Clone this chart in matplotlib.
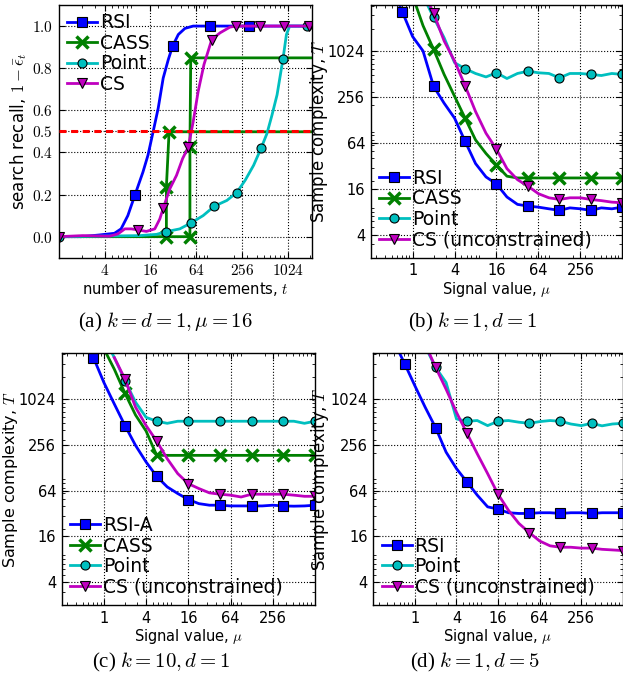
import numpy as np
import matplotlib
matplotlib.use('Agg')
import matplotlib.pyplot as plt
from matplotlib.ticker import FixedLocator, FixedFormatter, LogLocator, NullFormatter

plt.rcParams['mathtext.fontset'] = 'cm'
plt.rcParams['font.family'] = ['DejaVu Sans']
plt.rcParams['xtick.direction'] = 'in'
plt.rcParams['ytick.direction'] = 'in'
plt.rcParams['xtick.top'] = True
plt.rcParams['ytick.right'] = True
plt.rcParams['axes.linewidth'] = 1.0

nan = np.nan

# (a) search recall vs number of measurements, k = d = 1, mu = 16
t_rsi = [1, 2, 3.4, 5.4, 6.6, 8.1, 10, 12.8, 14.9, 17.4, 20.3, 23.6, 27.5, 31.3, 37.3, 45.6, 58.5, 97, 313, 2100]
rec_rsi = [0, 0, 0.008, 0.016, 0.037, 0.1, 0.196, 0.307, 0.387, 0.498, 0.61, 0.753, 0.84, 0.904, 0.96, 0.989, 1.0, 1.0, 1.0, 1.0]
mk_rsi = [6, 13, 17, 18]

t_cass = [1, 26, 53, 53, 54.3, 2100, nan, 26, 26, 28.2, 2100]
rec_cass = [0, 0, 0, 0.424, 0.849, 0.849, nan, 0, 0.236, 0.498, 0.498]
mk_cass = [1, 2, 3, 4, 8, 9]

t_point = [1, 11.6, 19.3, 26, 39, 54.6, 79, 111, 162, 218, 282, 364, 455, 545, 635, 740, 885, 982, 1083, 1808, 2100]
rec_point = [0, 0.005, 0.011, 0.024, 0.037, 0.065, 0.1, 0.145, 0.172, 0.209, 0.268, 0.339, 0.419, 0.49, 0.578, 0.674, 0.844, 0.96, 1.0, 1.0, 1.0]
mk_point = [0, 3, 5, 7, 9, 12, 16, 19]

t_cs = [1, 2.07, 4.66, 6.0, 7.4, 9.0, 11, 14.2, 18.3, 21.3, 23.6, 28.9, 35.3, 42.5, 50.3, 58.5, 68, 81, 102.6, 132, 178, 215, 446, 923, 1935, 2100]
rec_cs = [0, 0.005, 0.002, 0.013, 0.037, 0.037, 0.032, 0.025, 0.037, 0.084, 0.135, 0.228, 0.291, 0.371, 0.424, 0.546, 0.69, 0.817, 0.936, 0.968, 0.995, 1.0, 1.0, 1.0, 1.0, 1.0]
mk_cs = [0, 6, 10, 14, 18, 21, 22, 23, 24]

# (b)-(d) sample complexity vs signal value
mu = [0.25, 0.35, 0.5, 0.71, 1, 1.41, 2, 2.83, 4, 5.66, 8, 11.3, 16, 22.6, 32, 45.3, 64, 90.5, 128, 181, 256, 362, 512, 724, 1024]

b_rsi = [nan, nan, 7100, 3350, 1580, 1024, 352, 212, 135, 67.2, 34.3, 22.9, 18.5, 12.5, 10.0, 9.5, 9.2, 8.75, 8.35, 9.0, 8.75, 8.35, 9.0, 8.75, 9.2]
b_cass = [nan, nan, nan, nan, 5400, 2200, 1075, 505, 261, 135, 70, 46.5, 32.7, 23.4] + [22.2] * 11
b_point = [nan, nan, nan, nan, nan, 5400, 2820, 1530, 719, 600, 519, 468, 530, 446, 519, 557, 530, 519, 455, 519, 519, 505, 488, 519, 505]
b_cs = [nan, nan, nan, nan, nan, 6200, 3210, 1390, 755, 360, 165, 85.6, 52.7, 29.4, 21.1, 17.3, 13.8, 12.2, 11.6, 12.2, 12.2, 11.6, 11.2, 10.7, 10.5]

c_rsi = [nan, nan, 7100, 3590, 1690, 879, 458, 251, 152, 98.4, 71.5, 58.5, 48.8, 43.1, 41.1, 41.1, 40.2, 40.2, 40.2, 40.2, 41.1, 40.2, 39.9, 40.2, 41.1]
c_cass = [nan, nan, nan, nan, 4700, 2520, 1218, 630, 388] + [186] * 16
c_point = [nan, nan, nan, nan, 6650, 3590, 1783, 929, 588, 523, 491] + [523] * 12 + [491, 523]
c_cs = [nan, nan, nan, nan, nan, 3590, 1872, 798, 458, 286, 168, 107, 78.8, 68.1, 59.7, 57.3, 55.7, 52.7, 57.3, 57.3, 57.3, 57.3, 55.7, 53.8, 53.8]

d_rsi = [nan, nan, 5790, 3000, 1530, 798, 428, 205, 124.5, 83.3, 55.7, 39.1, 36.5, 32.7, 32, 32, 32.7, 32.7, 32, 32.7, 32.7, 32, 32.7, 32.7, 32.7]
d_point = [nan, nan, nan, nan, nan, 5040, 2666, 1690, 560, 523, 534, 458, 523, 534, 508, 491, 517, 534, 523, 481, 458, 491, 455, 481, 491]
d_cs = [nan, nan, nan, nan, nan, 5400, 2666, 1380, 685, 365, 195, 107, 57.3, 35.3, 23.7, 17.9, 13.9, 12.0, 11.5, 11.5, 11.2, 11.2, 10.8, 10.6, 10.4]

log_ticks = [4, 16, 64, 256, 1024]
mu_ticks = [1, 4, 16, 64, 256]
rec_ticks = [0.0, 0.2, 0.4, 0.5, 0.6, 0.8, 1.0]

styles = {
    'RSI': dict(color='b', marker='s'),
    'CASS': dict(color='g', marker='x', mew=2.5, ms=8),
    'Point': dict(color='c', marker='o'),
    'CS': dict(color='m', marker='v'),
}
LW = 2.0
MS = 6.5
LEG = dict(frameon=False, fontsize=13.5, numpoints=1, handlelength=1.6,
           handletextpad=0.15, labelspacing=0.08, borderpad=0.25, borderaxespad=0.2)

fig = plt.figure(figsize=(6.23, 6.86), dpi=100)
ax_a = fig.add_axes([0.0942, 0.6243, 0.4059, 0.3684])
ax_b = fig.add_axes([0.5950, 0.6243, 0.4039, 0.3684])
ax_c = fig.add_axes([0.0990, 0.1181, 0.4066, 0.3669])
ax_d = fig.add_axes([0.5992, 0.1181, 0.4005, 0.3669])


def draw(ax, x, y, kind, label, mk):
    st = dict(styles[kind])
    kw = dict(lw=LW, ms=st.pop('ms', MS), label=label, markevery=mk)
    if st['marker'] != 'x':
        kw['mec'] = 'k'
        kw['mew'] = 0.8
    ax.plot(x, y, **st, **kw)


def finish(ax, ylab_x):
    ax.grid(True, which='major', ls=':', color='k', lw=0.8)
    ax.tick_params(which='major', length=4, width=0.8)
    ax.tick_params(which='minor', length=2, width=0.6)
    ax.yaxis.set_label_coords(ylab_x, 0.5)


# ---- (a)
draw(ax_a, t_rsi, rec_rsi, 'RSI', 'RSI', mk_rsi)
draw(ax_a, t_cass, rec_cass, 'CASS', 'CASS', mk_cass)
draw(ax_a, t_point, rec_point, 'Point', 'Point', mk_point)
draw(ax_a, t_cs, rec_cs, 'CS', 'CS', mk_cs)
ax_a.axhline(0.5, color='r', lw=2.2, dashes=(2.3, 1.5), zorder=3)
ax_a.set_xscale('log', base=2)
ax_a.set_xlim(1, 2100)
ax_a.set_ylim(-0.1, 1.1)
ax_a.xaxis.set_major_locator(FixedLocator(log_ticks))
ax_a.xaxis.set_major_formatter(FixedFormatter(['$%d$' % v for v in log_ticks]))
ax_a.xaxis.set_minor_locator(LogLocator(base=10, subs=np.arange(2, 10), numticks=20))
ax_a.xaxis.set_minor_formatter(NullFormatter())
ax_a.yaxis.set_major_locator(FixedLocator(rec_ticks))
ax_a.yaxis.set_major_formatter(FixedFormatter(['$%.1f$' % v for v in rec_ticks]))
ax_a.tick_params(labelsize=11, pad=4)
ax_a.set_xlabel('number of measurements, $t$', fontsize=10.5, labelpad=1)
ax_a.set_ylabel(r'search recall, $1-\bar{\epsilon}_t$', fontsize=12)
finish(ax_a, -0.118)
ax_a.legend(loc='upper left', **LEG)


def log_panel(ax, curves, ylab_x, ylab_size):
    for y, kind, label in curves:
        draw(ax, mu, y, kind, label, 3)
    ax.set_xscale('log', base=2)
    ax.set_yscale('log', base=2)
    ax.set_xlim(0.25, 1024)
    ax.set_ylim(2, 4096)
    ax.xaxis.set_major_locator(FixedLocator(mu_ticks))
    ax.xaxis.set_major_formatter(FixedFormatter([str(v) for v in mu_ticks]))
    ax.yaxis.set_major_locator(FixedLocator(log_ticks))
    ax.yaxis.set_major_formatter(FixedFormatter([str(v) for v in log_ticks]))
    for axis in (ax.xaxis, ax.yaxis):
        axis.set_minor_locator(LogLocator(base=10, subs=np.arange(2, 10), numticks=20))
        axis.set_minor_formatter(NullFormatter())
    ax.tick_params(labelsize=10.5, pad=4)
    ax.set_xlabel(r'Signal value, $\mu$', fontsize=10.5, labelpad=1)
    ax.set_ylabel(r'Sample complexity, $T$', fontsize=ylab_size)
    finish(ax, ylab_x)
    ax.legend(loc='lower left', **LEG)


log_panel(ax_b, [(b_rsi, 'RSI', 'RSI'), (b_cass, 'CASS', 'CASS'),
                 (b_point, 'Point', 'Point'), (b_cs, 'CS', 'CS (unconstrained)')], -0.163, 12)
log_panel(ax_c, [(c_rsi, 'RSI', 'RSI-A'), (c_cass, 'CASS', 'CASS'),
                 (c_point, 'Point', 'Point'), (c_cs, 'CS', 'CS (unconstrained)')], -0.165, 11.5)
log_panel(ax_d, [(d_rsi, 'RSI', 'RSI'), (d_point, 'Point', 'Point'),
                 (d_cs, 'CS', 'CS (unconstrained)')], -0.168, 12)

cap = dict(ha='center', va='center', fontsize=15, family='Liberation Serif')
fig.text(0.2648, 0.5292, r'(a) $k=d=1,\mu=16$', **cap)
fig.text(0.7576, 0.5292, r'(b) $k=1,d=1$', **cap)
fig.text(0.2584, 0.0350, r'(c) $k=10,d=1$', **cap)
fig.text(0.7624, 0.0350, r'(d) $k=1,d=5$', **cap)

fig.savefig('out.png', dpi=100)
